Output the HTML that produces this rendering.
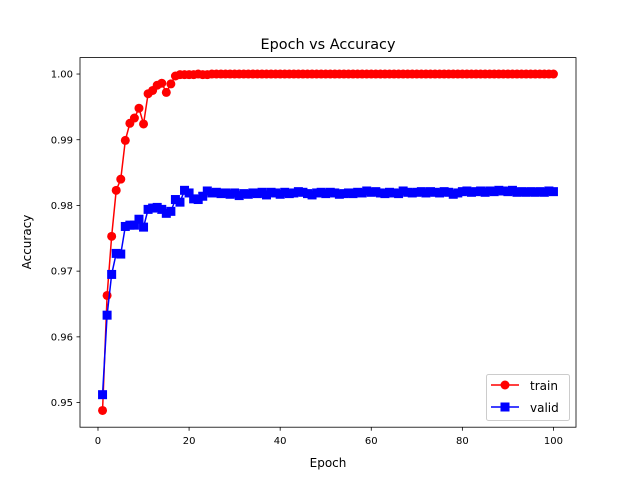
<!DOCTYPE html>
<html><head><meta charset="utf-8"><style>
body{margin:0;background:#fff}
svg{display:block;font-family:"DejaVu Sans","Liberation Sans",sans-serif}
</style></head><body>
<svg id="chart" width="640" height="480" xmlns="http://www.w3.org/2000/svg">
<rect width="640" height="480" fill="#fff"/>
<text x="328" y="49" font-size="14.4" text-anchor="middle">Epoch vs Accuracy</text>
<text x="328" y="467" font-size="12" text-anchor="middle">Epoch</text>
<text transform="translate(31,242) rotate(-90)" font-size="12" text-anchor="middle">Accuracy</text>
<g id="ticks"></g>
<g id="series"></g>
<rect x="80" y="57.6" width="496" height="369.6" fill="none" stroke="#000" stroke-width="0.8"/>
<g>
<rect x="486.5" y="374.5" width="83" height="46" rx="2" fill="#fff" fill-opacity="0.8" stroke="#ccc"/>
<g>
<line x1="491" y1="385" x2="519" y2="385" stroke="red" stroke-width="1.5"/><circle cx="505" cy="385" r="4.5" fill="red"/>
<text x="530" y="390" font-size="12">train</text></g>
<g>
<line x1="491" y1="407" x2="519" y2="407" stroke="blue" stroke-width="1.5"/><rect x="500.5" y="402.5" width="9" height="9" fill="blue"/>
<text x="530" y="412" font-size="12">valid</text></g>
</g>
</svg>
<script>
const xTicks=[0,20,40,60,80,100];
const yTicks=[0.95,0.96,0.97,0.98,0.99,1.00];
const yTickLabels=["0.95","0.96","0.97","0.98","0.99","1.00"];
const trainHead=[0.9488,0.9663,0.9753,0.9823,0.9840,0.9899,0.9925,0.9933,0.9948,0.9924,0.9970,0.9975,0.9983,0.9986,0.9972,0.9985,0.9997,0.9999,0.9999,0.9999,0.9999,1.0000,0.9999,0.9999];
const validHead=[0.9512,0.9633,0.9695,0.9727,0.9726,0.9768,0.9770,0.9770,0.9779,0.9767,0.9794,0.9796,0.9797,0.9794,0.9788,0.9791,0.9809,0.9805,0.9823,0.9819,0.9810,0.9809,0.9814,0.9822];
const validTail=[0.9819,0.9820,0.9818,0.9819,0.9817,0.9819,0.9815,0.9818,0.9817,0.9819,0.9818,0.9820,0.9816,0.9820,0.9819,0.9817,0.9820,0.9818,0.9819,0.9821,0.9820,0.9818,0.9816,0.9819,0.9820,0.9818,0.9820,0.9819,0.9817,0.9818,0.9819,0.9818,0.9820,0.9819,0.9822,0.9820,0.9821,0.9819,0.9818,0.9820,0.9819,0.9818,0.9822,0.9820,0.9819,0.9820,0.9821,0.9819,0.9821,0.9820,0.9819,0.9821,0.9820,0.9817,0.9819,0.9821,0.9822,0.9820,0.9821,0.9822,0.9820,0.9822,0.9821,0.9823,0.9822,0.9821,0.9823,0.9820,0.9821,0.9820,0.9821,0.9820,0.9821,0.9820,0.9822,0.9821];
const train=trainHead.concat(new Array(76).fill(1.0));
const valid=validHead.concat(validTail);
const NS="http://www.w3.org/2000/svg";
const X0=80,X1=576,Y0=427.2,Y1=57.6;
const xMin=-3.95,xMax=104.95,yMin=0.94625,yMax=1.0025;
const xs=v=>X0+(v-xMin)/(xMax-xMin)*(X1-X0);
const ys=v=>Y0-(v-yMin)/(yMax-yMin)*(Y0-Y1);
function mk(t,a,p){const e=document.createElementNS(NS,t);for(const k in a)e.setAttribute(k,a[k]);p.appendChild(e);return e;}
const tg=document.getElementById('ticks');
xTicks.forEach(t=>{const x=xs(t);
const l=mk('line',{x1:x,x2:x,y1:Y0,y2:Y0+3.5,stroke:'#000','stroke-width':0.8},tg);


const tx=mk('text',{x:x,y:Y0+17,'font-size':10,'text-anchor':'middle'},tg);tx.textContent=t;

});
yTicks.forEach((t,i)=>{const y=ys(t);
const l=mk('line',{x1:X0-3.5,x2:X0,y1:y,y2:y,stroke:'#000','stroke-width':0.8},tg);


const tx=mk('text',{x:X0-7,y:y+3.6,'font-size':10,'text-anchor':'end'},tg);tx.textContent=yTickLabels[i];

});
const sg=document.getElementById('series');
function draw(data,color,shape,name){
const g=mk('g',{},sg);


const pts=data.map((v,i)=>xs(i+1).toFixed(2)+','+ys(v).toFixed(2)).join(' ');
const pl=mk('polyline',{points:pts,fill:'none',stroke:color,'stroke-width':1.5},g);


data.forEach((v,i)=>{const x=xs(i+1),y=ys(v);let m;
if(shape==='c')m=mk('circle',{cx:x,cy:y,r:4.5,fill:color},g);
else m=mk('rect',{x:x-4.5,y:y-4.5,width:9,height:9,fill:color},g);

});}
draw(train,'red','c','train');
draw(valid,'blue','s','valid');
</script>
</body></html>
